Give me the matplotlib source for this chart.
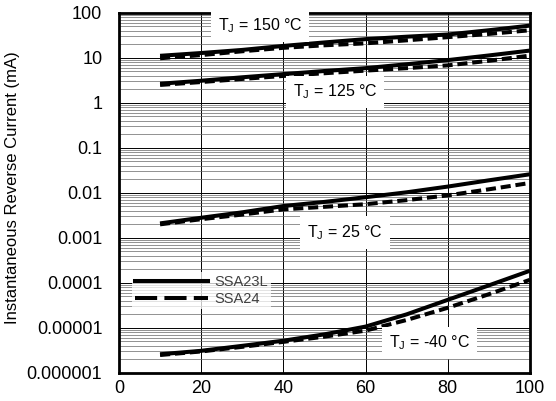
import matplotlib
matplotlib.use('Agg')
import matplotlib.pyplot as plt
from matplotlib.lines import Line2D
from matplotlib.ticker import LogLocator, NullFormatter

plt.rcParams['font.family'] = ['Liberation Sans', 'DejaVu Sans']

voltage = [10, 20, 30, 40, 50, 60, 70, 80, 90, 100]

# SSA23L (solid) / SSA24 (dashed), mA
ssa23l_150 = [11.1, 12.8, 15, 18.4, 22, 26, 29.5, 33, 41, 52]
ssa24_150 = [9.8, 11.5, 14, 16.7, 19, 21, 24.5, 28.8, 34, 41]
ssa23l_125 = [2.66, 3.1, 3.7, 4.35, 5.1, 5.9, 7.2, 8.9, 11.3, 14.5]
ssa24_125 = [2.5, 2.9, 3.4, 3.96, 4.55, 5.2, 5.9, 6.8, 8.6, 11.2]
ssa23l_25 = [0.0021, 0.0028, 0.0037, 0.0051, 0.0063, 0.008, 0.0103, 0.0138, 0.019, 0.0259]
ssa24_25 = [0.002, 0.0026, 0.0033, 0.0043, 0.0049, 0.0056, 0.0069, 0.0088, 0.012, 0.0166]
ssa23l_m40 = [2.6e-6, 3.1e-6, 4.0e-6, 5.2e-6, 7.2e-6, 1.07e-5, 2.0e-5, 4.2e-5, 8.8e-5, 1.86e-4]
ssa24_m40 = [2.5e-6, 3.0e-6, 3.8e-6, 4.9e-6, 6.4e-6, 8.7e-6, 1.5e-5, 2.8e-5, 5.6e-5, 1.17e-4]

y_ticks = [1e-6, 1e-5, 1e-4, 1e-3, 1e-2, 1e-1, 1, 10, 100]
y_tick_labels = ['0.000001', '0.00001', '0.0001', '0.001', '0.01', '0.1', '1', '10', '100']

fig = plt.figure(figsize=(5.56, 4.01), dpi=100)
ax = fig.add_axes([0.214, 0.070, 0.739, 0.898])

solid_sets = [ssa23l_150, ssa23l_125, ssa23l_25, ssa23l_m40]
dashed_sets = [ssa24_150, ssa24_125, ssa24_25, ssa24_m40]
for s, d in zip(solid_sets, dashed_sets):
    ax.plot(voltage, d, color='black', lw=2.9, ls=(0, (2.5, 1.2)), zorder=3)
    ax.plot(voltage, s, color='black', lw=2.9, solid_capstyle='butt', zorder=4)

ax.set_yscale('log')
ax.set_xlim(0, 100)
ax.set_ylim(1e-6, 100)
ax.set_xticks([0, 20, 40, 60, 80, 100])
ax.set_yticks(y_ticks)
ax.set_yticklabels(y_tick_labels)
ax.yaxis.set_minor_locator(LogLocator(base=10, subs=range(2, 10), numticks=20))
ax.yaxis.set_minor_formatter(NullFormatter())
ax.tick_params(which='both', length=0, labelsize=13)
ax.tick_params(axis='y', pad=12)
ax.tick_params(axis='x', pad=5)

ax.grid(True, which='major', axis='both', color='black', lw=0.7)
ax.grid(True, which='minor', axis='y', color='0.4', lw=0.5)
ax.set_axisbelow(True)
for sp in ax.spines.values():
    sp.set_linewidth(2)

ax.set_ylabel('Instantaneous Reverse Current (mA)', fontsize=12)
ax.yaxis.set_label_coords(-0.241, 0.515)

box = dict(facecolor='white', edgecolor='none', pad=5)
lab_fs = 11.5
ax.text(34.3, 52, r'T$_\mathregular{J}$ = 150 °C', fontsize=lab_fs, ha='center', va='center', bbox=box, zorder=5)
ax.text(52.6, 1.73, r'T$_\mathregular{J}$ = 125 °C', fontsize=lab_fs, ha='center', va='center', bbox=box, zorder=5)
ax.text(55, 0.00132, r'T$_\mathregular{J}$ = 25 °C', fontsize=lab_fs, ha='center', va='center', bbox=box, zorder=5)
ax.text(75.5, 0.0000046, r'T$_\mathregular{J}$ = -40 °C', fontsize=lab_fs, ha='center', va='center', bbox=box, zorder=5)

legend_handles = [Line2D([], [], color='black', lw=2.9),
                  Line2D([], [], color='black', lw=2.9, ls=(0, (5.5, 1.8)))]
leg = ax.legend(legend_handles, ['SSA23L', 'SSA24'],
                loc='center left', bbox_to_anchor=(0.015, 0.229), frameon=True,
                fontsize=10.5, handlelength=5.0, handletextpad=0.45, labelspacing=0.2,
                borderpad=0.2, fancybox=False)
leg.get_frame().set_facecolor('white')
leg.get_frame().set_alpha(0.75)
leg.get_frame().set_edgecolor('none')
for t in leg.get_texts():
    t.set_color('0.25')

plt.savefig('out.png', dpi=100)
plt.close()
